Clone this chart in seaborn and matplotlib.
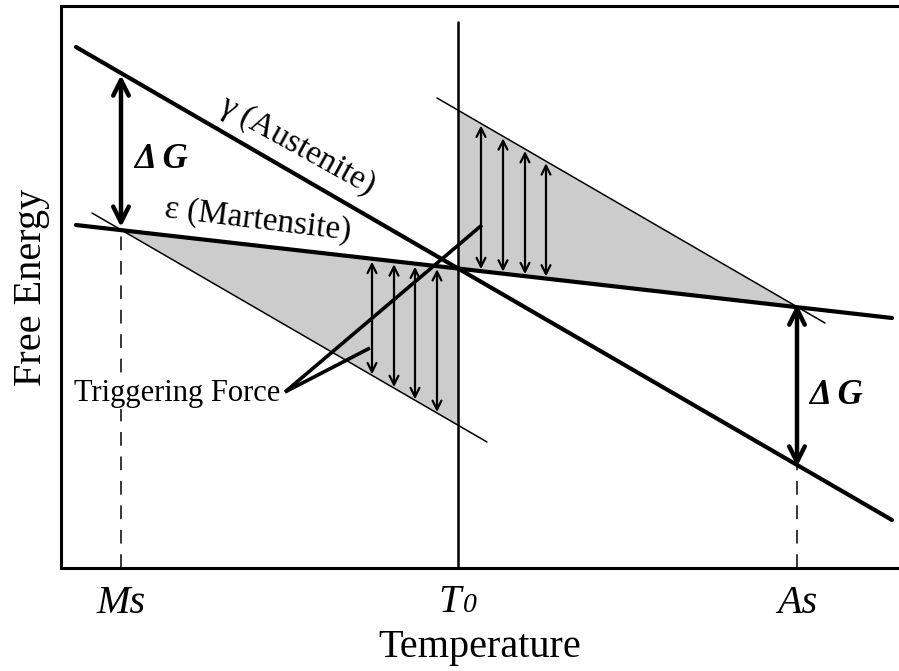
import numpy as np
import matplotlib
matplotlib.use("Agg")
import matplotlib.pyplot as plt
import matplotlib.transforms as mtransforms
import seaborn as sns

# Schematic free energy lines (temperature / energy in arbitrary units)
temp_span = [15, 831]
g_austenite = [521, 48]
g_martensite = [343, 250]

# thin lines parallel to austenite through Ms and As
lower_temp = [31, 426]
lower_g = [355, 126]
upper_temp = [376, 764]
upper_g = [470, 245]

# characteristic temperatures
t_ms, t_0, t_as = 60, 397, 736
tick_labels = ["Ms", "As"]

# positions of the small driving-force arrows
left_arrow_temps = [311, 333, 354, 376]
right_arrow_temps = [420, 442, 464, 485]

# triggering force pointer lines
tf_anchor = (224, 176)
tf_ends = [(421, 343), (309, 220)]


def g_a(t):
    return np.interp(t, temp_span, g_austenite)


def g_m(t):
    return np.interp(t, temp_span, g_martensite)


def g_low(t):
    return np.interp(t, lower_temp, lower_g)


def g_up(t):
    return np.interp(t, upper_temp, upper_g)


sns.set_theme(style="white")
plt.rcParams["font.family"] = ["Liberation Serif", "DejaVu Serif"]
plt.rcParams["text.color"] = "black"
plt.rcParams["axes.labelcolor"] = "black"
plt.rcParams["xtick.color"] = "black"

fig = plt.figure(figsize=(8.99, 6.71), dpi=100)
ax = fig.add_axes([61 / 899, 103 / 671, 838 / 899, 562 / 671])
ax.set_xlim(0, 838)
ax.set_ylim(0, 562)

# shaded regions
t_left = np.array([t_ms, t_0])
ax.fill_between(t_left, g_low(t_left), g_m(t_left), color="#cccccc", lw=0, zorder=1)
t_right = np.array([t_0, t_as])
ax.fill_between(t_right, g_m(t_right), g_up(t_right), color="#cccccc", lw=0, zorder=1)

# thin parallel lines
sns.lineplot(x=lower_temp, y=lower_g, color="black", lw=1.1, ax=ax, zorder=2)
sns.lineplot(x=upper_temp, y=upper_g, color="black", lw=1.1, ax=ax, zorder=2)

# main free energy lines
sns.lineplot(x=temp_span, y=g_austenite, color="black", lw=3.0, ax=ax, zorder=4)
sns.lineplot(x=temp_span, y=g_martensite, color="black", lw=3.0, ax=ax, zorder=4)

# T0 vertical line and dashed Ms / As lines
ax.plot([t_0, t_0], [0, 546], color="black", lw=1.8, zorder=3)
ax.plot([t_ms, t_ms], [0, 333], color="black", lw=1.1, dashes=(9, 7), zorder=2)
ax.plot([t_as, t_as], [0, 103], color="black", lw=1.1, dashes=(9, 7), zorder=2)

# small double arrows
for t in left_arrow_temps:
    ax.annotate("", xy=(t, g_low(t) + 1), xytext=(t, g_m(t) - 3),
                arrowprops=dict(arrowstyle="<->", lw=1.6, color="black",
                                mutation_scale=16, shrinkA=0, shrinkB=0), zorder=3)
for t in right_arrow_temps:
    ax.annotate("", xy=(t, g_m(t) + 2), xytext=(t, g_up(t) - 2),
                arrowprops=dict(arrowstyle="<->", lw=1.6, color="black",
                                mutation_scale=16, shrinkA=0, shrinkB=0), zorder=3)

# Delta G arrows
for t in [t_ms, t_as]:
    ax.annotate("", xy=(t, g_m(t) + 3), xytext=(t, g_a(t) - 2),
                arrowprops=dict(arrowstyle="<->", lw=3.2, color="black",
                                mutation_scale=28, shrinkA=0, shrinkB=0), zorder=5)
ax.text(t_ms + 13, 408, "Δ G", fontsize=25, fontweight="bold", fontstyle="italic",
        ha="left", va="center")
ax.text(t_as + 12, 173, "Δ G", fontsize=25, fontweight="bold", fontstyle="italic",
        ha="left", va="center")

# triggering force pointers
for end in tf_ends:
    ax.plot([tf_anchor[0], end[0]], [tf_anchor[1], end[1]], color="black", lw=2.6,
            solid_capstyle="butt", zorder=5)
ax.text(tf_anchor[0] - 5, tf_anchor[1] - 2, "Triggering Force", fontsize=22,
        ha="right", va="center", zorder=6,
        bbox=dict(facecolor="white", edgecolor="none", pad=0))

# phase labels
ax.text(236, 422, "γ (Austenite)", fontsize=24, rotation=-29,
        ha="center", va="center", rotation_mode="anchor")
ax.text(197, 348, "ε (Martensite)", fontsize=24, rotation=-7,
        ha="center", va="center", rotation_mode="anchor")

# axes styling
ax.set_xticks([t_ms, t_as])
ax.set_xticklabels(tick_labels, fontsize=29, fontstyle="italic")
ax.set_yticks([])
ax.tick_params(axis="x", length=0, pad=12)

# T0 label: italic T with a small italic 0 on the baseline
trans = mtransforms.blended_transform_factory(ax.transData, ax.transAxes)
lab_off = mtransforms.offset_copy(trans, fig=fig, x=-8, y=-16, units="dots")
ax.text(t_0, 0, "T", transform=lab_off, fontsize=29, fontstyle="italic",
        ha="center", va="top")
zero_off = mtransforms.offset_copy(trans, fig=fig, x=5, y=-44, units="dots")
ax.text(t_0, 0, "0", transform=zero_off, fontsize=20, fontstyle="italic",
        ha="left", va="baseline")

ax.set_xlabel("Temperature", fontsize=29, labelpad=5)
ax.set_ylabel("Free Energy", fontsize=29, labelpad=8)
for side in ["left", "bottom", "top"]:
    ax.spines[side].set_color("black")
    ax.spines[side].set_linewidth(2.2)
    ax.spines[side].set_zorder(7)
ax.spines["right"].set_visible(False)

fig.savefig("out.png", dpi=100)
